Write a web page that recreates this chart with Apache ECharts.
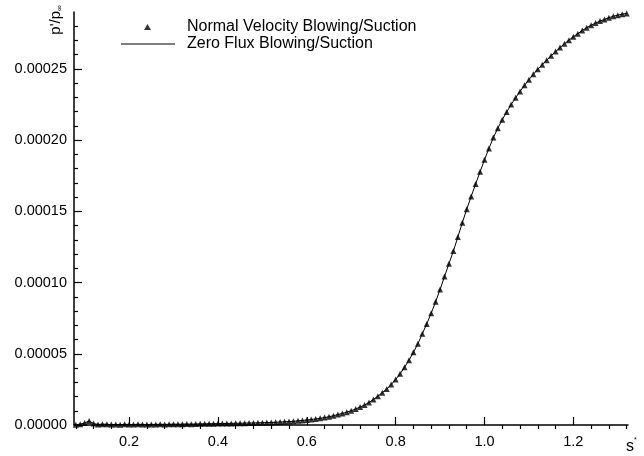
<!DOCTYPE html>
<html>
<head>
<meta charset="utf-8">
<script src="https://cdn.jsdelivr.net/npm/echarts@6/dist/echarts.min.js"></script>
<style>
  html, body { margin: 0; padding: 0; background: #fff; }
  #chart { width: 644px; height: 456px; }
</style>
</head>
<body>
<div id="chart"></div>
<script>
// s* positions (one point every 0.01)
var sValues = [
  0.08, 0.09, 0.10, 0.11, 0.12, 0.13, 0.14, 0.15, 0.16, 0.17, 0.18, 0.19,
  0.20, 0.21, 0.22, 0.23, 0.24, 0.25, 0.26, 0.27, 0.28, 0.29,
  0.30, 0.31, 0.32, 0.33, 0.34, 0.35, 0.36, 0.37, 0.38, 0.39,
  0.40, 0.41, 0.42, 0.43, 0.44, 0.45, 0.46, 0.47, 0.48, 0.49,
  0.50, 0.51, 0.52, 0.53, 0.54, 0.55, 0.56, 0.57, 0.58, 0.59,
  0.60, 0.61, 0.62, 0.63, 0.64, 0.65, 0.66, 0.67, 0.68, 0.69,
  0.70, 0.71, 0.72, 0.73, 0.74, 0.75, 0.76, 0.77, 0.78, 0.79,
  0.80, 0.81, 0.82, 0.83, 0.84, 0.85, 0.86, 0.87, 0.88, 0.89,
  0.90, 0.91, 0.92, 0.93, 0.94, 0.95, 0.96, 0.97, 0.98, 0.99,
  1.00, 1.01, 1.02, 1.03, 1.04, 1.05, 1.06, 1.07, 1.08, 1.09,
  1.10, 1.11, 1.12, 1.13, 1.14, 1.15, 1.16, 1.17, 1.18, 1.19,
  1.20, 1.21, 1.22, 1.23, 1.24, 1.25, 1.26, 1.27, 1.28, 1.29,
  1.30, 1.31, 1.32
];
// p'/p_inf, in units of 1e-5 (Normal Velocity Blowing/Suction, triangles)
var normalVelocity = [
  0.02, 0.06, 0.14, 0.28, 0.10, 0.04, 0.06, 0.05, 0.03, 0.04, 0.02, 0.05,
  0.04, 0.03, 0.05, 0.04, 0.03, 0.04, 0.04, 0.05, 0.04, 0.05,
  0.06, 0.05, 0.06, 0.07, 0.06, 0.07, 0.08, 0.08, 0.09, 0.09,
  0.10, 0.10, 0.11, 0.11, 0.12, 0.12, 0.13, 0.14, 0.14, 0.15,
  0.16, 0.17, 0.18, 0.19, 0.21, 0.22, 0.24, 0.26, 0.29, 0.32,
  0.35, 0.39, 0.42, 0.47, 0.52, 0.58, 0.65, 0.73, 0.81, 0.90,
  1.00, 1.12, 1.26, 1.40, 1.58, 1.79, 2.02, 2.27, 2.53, 2.84,
  3.20, 3.59, 4.05, 4.55, 5.10, 5.70, 6.40, 7.10, 7.85, 8.65,
  9.52, 10.42, 11.33, 12.22, 13.20, 14.20, 15.15, 16.05, 16.92, 17.78,
  18.62, 19.42, 20.18, 20.84, 21.44, 21.98, 22.50, 22.98, 23.42, 23.85,
  24.25, 24.63, 24.98, 25.30, 25.62, 25.93, 26.22, 26.50, 26.77, 27.02,
  27.26, 27.48, 27.70, 27.90, 28.07, 28.22, 28.36, 28.48, 28.60, 28.70,
  28.78, 28.85, 28.90
];
// Zero Flux Blowing/Suction: the line lies on top of the triangles
var zeroFlux = normalVelocity;

var xMajorTicks = [0.2, 0.4, 0.6, 0.8, 1.0, 1.2];
var xMinorTicks = [0.08, 0.12, 0.16, 0.24, 0.28, 0.32, 0.36, 0.44,
  0.48, 0.52, 0.56, 0.64, 0.68, 0.72, 0.76, 0.84, 0.88, 0.92,
  0.96, 1.04, 1.08, 1.12, 1.16, 1.24, 1.28, 1.32];
var yMajorTicks = [0, 5, 10, 15, 20, 25];
var yMinorTicks = [1, 2, 3, 4, 6, 7, 8, 9, 11, 12, 13, 14, 16, 17, 18, 19,
  21, 22, 23, 24, 26, 27, 28];

var FONT = 'Liberation Sans, Arial, sans-serif';

function pairs(xs, ys) {
  var out = [];
  for (var i = 0; i < xs.length; i++) out.push([xs[i], ys[i]]);
  return out;
}

var myChart = echarts.init(document.getElementById('chart'), null, { renderer: 'canvas' });
var option = {
  animation: false,
  backgroundColor: '#fff',
  grid: { left: 74, right: 16, top: 12, bottom: 31 },
  legend: [
    {
      data: ['Normal Velocity Blowing/Suction'],
      left: 144, top: 19, padding: 0,
      itemWidth: 7, itemHeight: 6,
      textStyle: { fontFamily: FONT, fontSize: 16, color: '#000', padding: [0, 0, 0, 31] }
    },
    {
      data: [{ name: 'Zero Flux Blowing/Suction', icon: 'rect' }],
      left: 121, top: 36, padding: 0,
      itemWidth: 54, itemHeight: 1,
      textStyle: { fontFamily: FONT, fontSize: 16, color: '#000', padding: [0, 0, 0, 7] }
    }
  ],
  xAxis: [
    {
      type: 'value', min: 0.076, max: 1.323,
      axisLine: { show: true, lineStyle: { color: '#000', width: 1.5 } },
      axisTick: { show: true, inside: true, length: 8, customValues: xMajorTicks, lineStyle: { color: '#000', width: 1.2 } },
      axisLabel: {
        customValues: xMajorTicks, margin: 9,
        fontFamily: FONT, fontSize: 14.5, color: '#000',
        formatter: function (v) { return v.toFixed(1); }
      },
      splitLine: { show: false }
    },
    {
      type: 'value', min: 0.076, max: 1.323,
      axisLine: { show: true, lineStyle: { color: 'rgba(0,0,0,0)' } },
      axisTick: { show: true, inside: true, length: 4, customValues: xMinorTicks, lineStyle: { color: '#000', width: 1.2 } },
      axisLabel: { show: false },
      splitLine: { show: false }
    }
  ],
  yAxis: [
    {
      type: 'value', min: 0, max: 29,
      axisLine: { show: true, lineStyle: { color: '#000', width: 1.5 } },
      axisTick: { show: true, inside: true, length: 8, customValues: yMajorTicks, lineStyle: { color: '#000', width: 1.2 } },
      axisLabel: {
        customValues: yMajorTicks, margin: 7,
        fontFamily: FONT, fontSize: 14.5, color: '#000',
        formatter: function (v) { return (v / 100000).toFixed(5); }
      },
      splitLine: { show: false }
    },
    {
      type: 'value', min: 0, max: 29, position: 'left', offset: 0,
      axisLine: { show: true, lineStyle: { color: 'rgba(0,0,0,0)' } },
      axisTick: { show: true, inside: true, length: 4, customValues: yMinorTicks, lineStyle: { color: '#000', width: 1.2 } },
      axisLabel: { show: false },
      splitLine: { show: false }
    }
  ],
  graphic: [
    {
      type: 'text', x: 56, y: 20, rotation: Math.PI / 2,
      style: {
        text: "{m|p'/p}{s|∞}",
        align: 'center', verticalAlign: 'middle',
        rich: {
          m: { fontFamily: FONT, fontSize: 15, color: '#000', lineHeight: 16, verticalAlign: 'middle' },
          s: { fontFamily: FONT, fontSize: 8, color: '#000', lineHeight: 16, verticalAlign: 'bottom' }
        }
      }
    },
    {
      type: 'text', x: 626, y: 437,
      style: {
        text: '{m|s}{s|*}',
        align: 'left', verticalAlign: 'top',
        rich: {
          m: { fontFamily: FONT, fontSize: 16, color: '#000', lineHeight: 18, verticalAlign: 'bottom' },
          s: { fontFamily: FONT, fontSize: 7, color: '#000', lineHeight: 18, verticalAlign: 'top' }
        }
      }
    }
  ],
  series: [
    {
      name: 'Zero Flux Blowing/Suction',
      type: 'line',
      data: pairs(sValues, zeroFlux),
      symbol: 'none',
      lineStyle: { color: '#000', width: 1 },
      itemStyle: { color: '#000' },
      z: 2
    },
    {
      name: 'Normal Velocity Blowing/Suction',
      type: 'scatter',
      data: pairs(sValues, normalVelocity),
      symbol: 'triangle',
      symbolSize: 6,
      itemStyle: { color: '#000' },
      z: 3
    }
  ]
};
myChart.setOption(option);
</script>
</body>
</html>
